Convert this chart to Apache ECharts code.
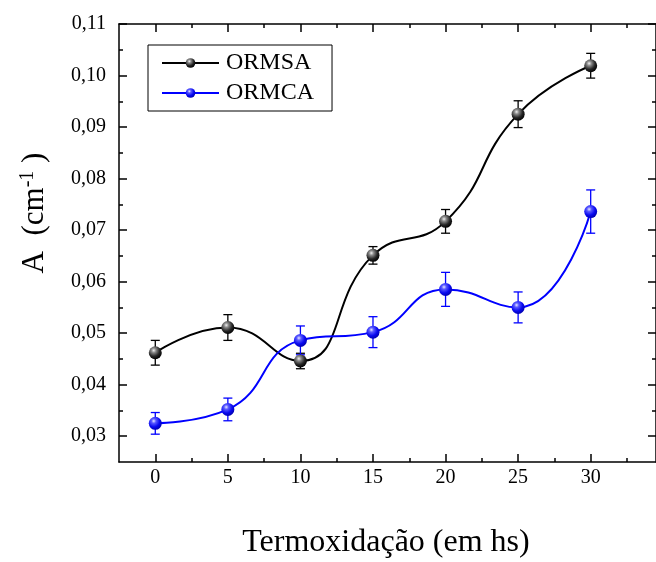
<!DOCTYPE html>
<html>
<head>
<meta charset="utf-8">
<script src="https://cdn.jsdelivr.net/npm/echarts@6/dist/echarts.min.js"></script>
<style>
html,body{margin:0;padding:0;background:#fff;}
#chart{width:656px;height:562px;}
</style>
</head>
<body>
<div id="chart"></div>
<script>
// ---- data ----
const hours = [0, 5, 10, 15, 20, 25, 30];
const ormsa = [0.0462, 0.0511, 0.0446, 0.0651, 0.0717, 0.0925, 0.1019];
const ormsaErr = [0.0024, 0.0025, 0.0015, 0.0017, 0.0023, 0.0026, 0.0024];
const ormca = [0.0325, 0.0352, 0.0486, 0.0502, 0.0585, 0.0550, 0.0736];
const ormcaErr = [0.0021, 0.0022, 0.0028, 0.0030, 0.0033, 0.0030, 0.0042];
const xMajorTicks = [0, 5, 10, 15, 20, 25, 30];
const xMinorTicks = [2.5, 7.5, 12.5, 17.5, 22.5, 27.5, 32.5];
const yMajorTicks = [0.03, 0.04, 0.05, 0.06, 0.07, 0.08, 0.09, 0.10, 0.11];
const yMinorTicks = [0.035, 0.045, 0.055, 0.065, 0.075, 0.085, 0.095, 0.105];

const FONT = 'Liberation Serif';
const X_MIN = -2.5, X_MAX = 34.5, Y_MIN = 0.025, Y_MAX = 0.11;

const chart = echarts.init(document.getElementById('chart'));

function sphere(c0, c1, c2, c3) {
  return new echarts.graphic.RadialGradient(0.38, 0.32, 0.7, [
    {offset: 0, color: c0}, {offset: 0.25, color: c1},
    {offset: 0.65, color: c2}, {offset: 1, color: c3}
  ]);
}
const blackBall = sphere('#f0f0f0', '#8a8a8a', '#262626', '#000000');
const blueBall = sphere('#e8e8ff', '#5a5aff', '#0a0af0', '#0000b0');

function xAxisDef(pos, ticks, len, showLine, showLabel) {
  return {
    type: 'value', min: X_MIN, max: X_MAX, position: pos,
    axisLine: {show: showLine, onZero: false, lineStyle: {color: '#000', width: 1.5}},
    axisTick: {show: true, inside: true, length: len, customValues: ticks, lineStyle: {color: '#000', width: 1.5}},
    axisLabel: showLabel ? {show: true, customValues: ticks, margin: 6, color: '#000', fontFamily: FONT, fontSize: 20} : {show: false},
    splitLine: {show: false}
  };
}
function yAxisDef(pos, ticks, len, showLine, showLabel) {
  return {
    type: 'value', min: Y_MIN, max: Y_MAX, position: pos,
    axisLine: {show: showLine, onZero: false, lineStyle: {color: '#000', width: 1.5}},
    axisTick: {show: true, inside: true, length: len, customValues: ticks, lineStyle: {color: '#000', width: 1.5}},
    axisLabel: showLabel ? {show: true, customValues: ticks, margin: 13, color: '#000', fontFamily: FONT, fontSize: 20,
      formatter: v => v.toFixed(2).replace('.', ',')} : {show: false},
    splitLine: {show: false}
  };
}

function errorSeries(name, vals, errs, color) {
  return {
    type: 'custom', name: name, xAxisIndex: 0, yAxisIndex: 0, z: 3, silent: true,
    data: hours.map((h, i) => [h, vals[i], errs[i]]),
    renderItem: function (params, api) {
      const x = api.value(0), y = api.value(1), e = api.value(2);
      const t = api.coord([x, y + e]), b = api.coord([x, y - e]);
      const w = 4.5;
      const st = {stroke: color, lineWidth: 1.3, fill: null};
      return {type: 'group', children: [
        {type: 'line', shape: {x1: t[0], y1: t[1], x2: b[0], y2: b[1]}, style: st},
        {type: 'line', shape: {x1: t[0] - w, y1: t[1], x2: t[0] + w, y2: t[1]}, style: st},
        {type: 'line', shape: {x1: b[0] - w, y1: b[1], x2: b[0] + w, y2: b[1]}, style: st}
      ]};
    }
  };
}

const option = {
  backgroundColor: '#fff',
  animation: false,
  grid: {left: 119, top: 24, right: -1, bottom: 100, containLabel: false},
  xAxis: [
    xAxisDef('bottom', xMajorTicks, 8, true, true),
    xAxisDef('bottom', xMinorTicks, 4, false, false),
    xAxisDef('top', xMajorTicks, 8, true, false),
    xAxisDef('top', xMinorTicks, 4, false, false)
  ],
  yAxis: [
    yAxisDef('left', yMajorTicks, 8, true, true),
    yAxisDef('left', yMinorTicks, 4, false, false),
    yAxisDef('right', yMajorTicks, 8, true, false),
    yAxisDef('right', yMinorTicks, 4, false, false)
  ],
  legend: {
    left: 148, top: 45, orient: 'vertical',
    data: ['ORMSA', 'ORMCA'],
    itemWidth: 57, itemHeight: 12, itemGap: 6,
    padding: [6, 18, 6, 13],
    borderColor: '#000', borderWidth: 1, borderRadius: 0,
    backgroundColor: '#fff',
    textStyle: {fontFamily: FONT, fontSize: 24, color: '#000', padding: [0, 0, 0, 2]}
  },
  graphic: [{
    type: 'text', x: 35, y: 213, rotation: Math.PI / 2,
    style: {
      text: 'A  (cm{s|-1} )',
      font: '31px "Liberation Serif"',
      fill: '#000',
      align: 'center', verticalAlign: 'middle',
      rich: {
        s: {fontFamily: FONT, fontSize: 20, fill: '#000', verticalAlign: 'top', padding: [0, 0, 14, 0]}
      }
    }
  }, {
    type: 'text', x: 386, y: 543,
    style: {
      text: 'Termoxidação (em hs)', font: '32px "Liberation Serif"', fill: '#000',
      align: 'center', verticalAlign: 'middle'
    }
  }],
  series: [
    errorSeries('errSA', ormsa, ormsaErr, '#000'),
    errorSeries('errCA', ormca, ormcaErr, '#0000ff'),
    {
      name: 'ORMSA', type: 'line', xAxisIndex: 0, yAxisIndex: 0, z: 4,
      data: hours.map((h, i) => [h, ormsa[i]]),
      smooth: 0.5, symbol: 'circle', symbolSize: 13,
      lineStyle: {color: '#000', width: 2},
      itemStyle: {color: blackBall, borderWidth: 0}
    },
    {
      name: 'ORMCA', type: 'line', xAxisIndex: 0, yAxisIndex: 0, z: 4,
      data: hours.map((h, i) => [h, ormca[i]]),
      smooth: 0.5, symbol: 'circle', symbolSize: 13,
      lineStyle: {color: '#0000ff', width: 2},
      itemStyle: {color: blueBall, borderWidth: 0}
    }
  ]
};
chart.setOption(option);
</script>
</body>
</html>
